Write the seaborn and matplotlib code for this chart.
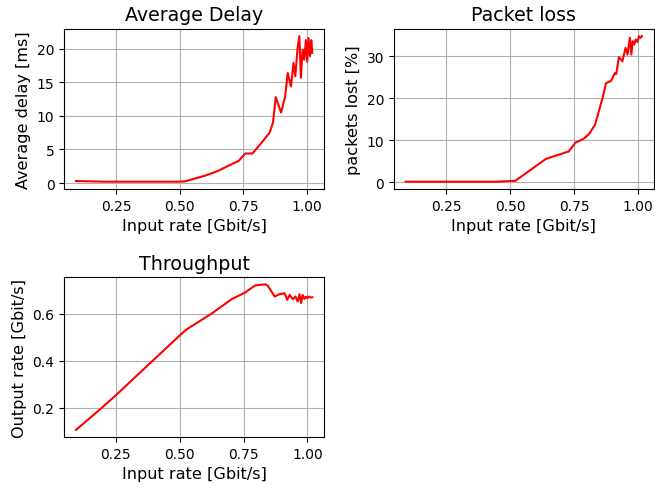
import numpy as np
import pandas as pd
import matplotlib
matplotlib.use('Agg')
import matplotlib.pyplot as plt
import seaborn as sns

# Average delay [ms] vs input rate [Gbit/s]
delay_rate = [0.091, 0.2, 0.3, 0.4, 0.5, 0.52, 0.6, 0.65, 0.693, 0.732, 0.758, 0.786,
              0.822, 0.854, 0.867, 0.878, 0.899, 0.915, 0.925, 0.938, 0.948, 0.955,
              0.964, 0.971, 0.977, 0.984, 0.990, 0.997, 1.002, 1.007, 1.013, 1.018, 1.022]
delay_ms = [0.3, 0.2, 0.2, 0.2, 0.2, 0.25, 1.1, 1.8, 2.6, 3.3, 4.4, 4.4,
            6.0, 7.5, 9.0, 12.8, 10.5, 12.9, 16.4, 14.4, 17.9, 15.9,
            20.1, 21.9, 15.7, 19.9, 18.4, 21.3, 18.1, 21.6, 18.9, 21.3, 19.4]

# Packet loss [%]
loss_rate = [0.091, 0.2, 0.3, 0.446, 0.52, 0.639, 0.678, 0.729, 0.755, 0.787, 0.809,
             0.832, 0.861, 0.875, 0.894, 0.91, 0.915, 0.925, 0.939, 0.951, 0.959,
             0.968, 0.974, 0.979, 0.985, 0.991, 0.997, 1.004, 1.010, 1.015]
loss_pct = [0.1, 0.1, 0.1, 0.1, 0.3, 5.5, 6.3, 7.3, 9.4, 10.3, 11.5,
            13.7, 20.0, 23.6, 24.1, 26.0, 25.8, 29.8, 28.8, 32.0, 30.4,
            34.4, 30.4, 33.6, 32.8, 34.0, 33.4, 34.8, 34.4, 34.8]

# Throughput [Gbit/s]
tput_rate = [0.094, 0.191, 0.25, 0.5, 0.525, 0.628, 0.705, 0.756, 0.795, 0.834, 0.844,
             0.872, 0.891, 0.911, 0.921, 0.93, 0.943, 0.953, 0.962, 0.969, 0.975,
             0.981, 0.988, 0.994, 1.0, 1.007, 1.013, 1.019]
tput_out = [0.107, 0.197, 0.254, 0.508, 0.532, 0.603, 0.663, 0.690, 0.720, 0.725, 0.72,
            0.673, 0.683, 0.687, 0.659, 0.68, 0.662, 0.673, 0.652, 0.683, 0.645,
            0.680, 0.663, 0.673, 0.666, 0.673, 0.669, 0.670]

fig, axes = plt.subplots(2, 2, figsize=(6.55, 4.89), dpi=100)
fig.subplots_adjust(left=0.098, right=0.998, top=0.939, bottom=0.104,
                    wspace=0.268, hspace=0.55)

panels = [
    (axes[0, 0], delay_rate, delay_ms, 'Average Delay', 'Average delay [ms]'),
    (axes[0, 1], loss_rate, loss_pct, 'Packet loss', 'packets lost [%]'),
    (axes[1, 0], tput_rate, tput_out, 'Throughput', 'Output rate [Gbit/s]'),
]
for ax, x, y, title, ylabel in panels:
    df = pd.DataFrame({'x': x, 'y': y})
    sns.lineplot(data=df, x='x', y='y', ax=ax, color='red', sort=False)
    ax.grid(True)
    ax.set_title(title, fontsize=13.7)
    ax.set_xlabel('Input rate [Gbit/s]', fontsize=11.6)
    ax.set_ylabel(ylabel, fontsize=11.6)
    ax.set_xticks([0.25, 0.5, 0.75, 1.0])

axes[1, 1].axis('off')

fig.savefig('out.png', dpi=100)
